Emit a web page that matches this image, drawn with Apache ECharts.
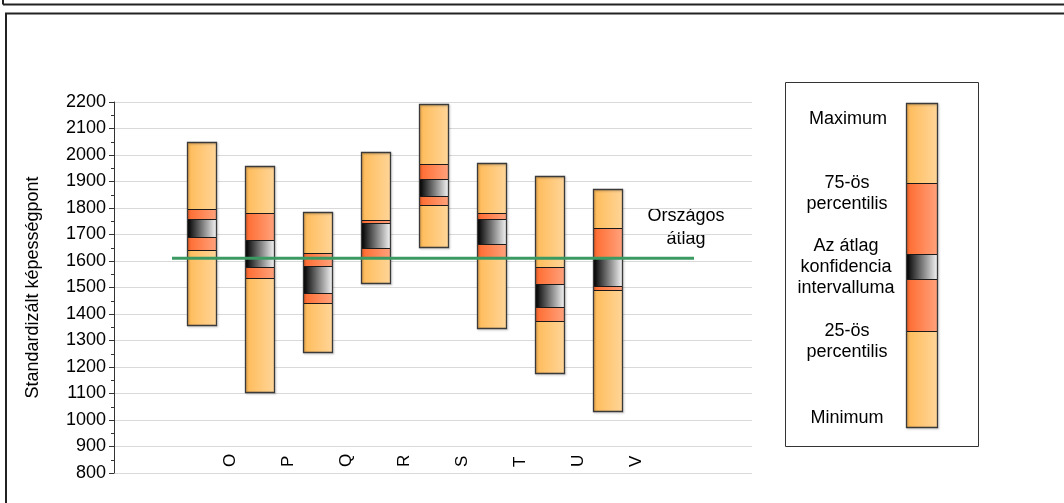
<!DOCTYPE html>
<html><head><meta charset="utf-8">
<script src="https://cdn.jsdelivr.net/npm/echarts@6/dist/echarts.min.js"></script>
<style>html,body{margin:0;padding:0;background:#fff}#c{width:1064px;height:503px}</style>
</head><body><div id="c"></div>
<script>
// ---- data ----
const categories = ['O','P','Q','R','S','T','U','V'];
const minimum = [1360,1105,1257,1518,1654,1346,1177,1035];
const p25     = [1640,1535,1440,1616,1811,1612,1373,1490];
const ciLow   = [1691,1576,1478,1648,1846,1663,1427,1506];
const ciHigh  = [1757,1679,1582,1743,1911,1757,1512,1616];
const p75     = [1798,1783,1630,1753,1965,1783,1576,1723];
const maximum = [2049,1957,1786,2010,2194,1968,1921,1871];
const nationalAverage = 1610;
const yMin = 800, yMax = 2200, yStep = 100;
const yTitle = 'Standardizált képességpont';
const avgLabel = 'Országos\nátlag';
// legend sample bar (abstract sample values, bottom to top)
const legendBar = [0, 96, 148, 173, 244, 324];
const legendLabels = ['Maximum', '75-ös\npercentilis', 'Az átlag\nkonfidencia\nintervalluma', '25-ös\npercentilis', 'Minimum'];

const FONT = '"Liberation Sans", Arial, sans-serif';
const grad = (a, b) => new echarts.graphic.LinearGradient(0, 0, 1, 0, [{offset: 0, color: a}, {offset: 1, color: b}]);
const LIGHT = () => grad('#FFBB58', '#FFD598');
const RED = () => grad('#FF6A2E', '#FFA27C');
const CI = () => grad('#000000', '#F4F4F4');

function makeRender(widthFrac) {
  return function (params, api) {
    const x = api.value(0);
    const vals = [1, 2, 3, 4, 5, 6].map(i => api.value(i));
    const w = Math.round(api.size([1, 0])[0] * widthFrac);
    const cx = api.coord([x, vals[0]])[0];
    const left = Math.round(cx - w / 2) + 0.5;
    const ys = vals.map(v => Math.round(api.coord([x, v])[1]) + 0.5);
    const fills = [LIGHT(), RED(), CI(), RED(), LIGHT()];
    const children = [];
    for (let k = 0; k < 5; k++) {
      children.push({type: 'rect', shape: {x: left, y: ys[k + 1], width: w, height: ys[k] - ys[k + 1]},
        style: {fill: fills[k]}});
    }
    for (let k = 1; k < 5; k++) {
      children.push({type: 'line', shape: {x1: left, y1: ys[k], x2: left + w, y2: ys[k]},
        style: {stroke: '#1a1a1a', lineWidth: 1}});
    }
    children.push({type: 'rect', shape: {x: left, y: ys[5], width: w, height: ys[0] - ys[5]},
      style: {fill: null, stroke: '#3a3a3a', lineWidth: 1.3, shadowColor: 'rgba(0,0,0,0.25)', shadowBlur: 2, shadowOffsetX: 1, shadowOffsetY: 1}});
    return {type: 'group', children};
  };
}

const boxData = categories.map((c, i) => [i + 1.5, minimum[i], p25[i], ciLow[i], ciHigh[i], p75[i], maximum[i]]);

const chart = echarts.init(document.getElementById('c'), null, {renderer: 'canvas'});
chart.setOption({
  animation: false,
  backgroundColor: '#fff',
  grid: [
    {left: 114, top: 102, width: 638, height: 371},
    {left: 906, top: 103, width: 31, height: 324}
  ],
  xAxis: [
    {type: 'value', gridIndex: 0, min: 0, max: 11, interval: 1,
      axisLine: {show: false}, axisTick: {show: false}, splitLine: {show: false},
      axisLabel: {inside: true, rotate: 90, margin: 6, fontFamily: FONT, fontSize: 17, color: '#000',
        formatter: v => (v >= 2 && v - 2 < categories.length) ? categories[v - 2] : ''}},
    {type: 'value', gridIndex: 1, min: 0, max: 1, show: false}
  ],
  yAxis: [
    {type: 'value', gridIndex: 0, min: yMin, max: yMax, interval: yStep,
      name: yTitle, nameLocation: 'middle', nameRotate: 90, nameGap: 72,
      nameTextStyle: {fontFamily: FONT, fontSize: 18, color: '#000'},
      axisLine: {show: true, lineStyle: {color: '#333', width: 1}},
      axisTick: {show: true, length: 5, lineStyle: {color: '#333'}},
      minorTick: {show: true, splitNumber: 2, length: 3, lineStyle: {color: '#333'}},
      splitLine: {show: true, lineStyle: {color: '#d9d9d9', width: 1}},
      axisLabel: {fontFamily: FONT, fontSize: 18, color: '#000', margin: 8, formatter: v => String(v)}},
    {type: 'value', gridIndex: 1, min: 0, max: 324, show: false}
  ],
  series: [
    {type: 'custom', xAxisIndex: 0, yAxisIndex: 0, renderItem: makeRender(0.5),
      encode: {x: 0, y: [1, 6]}, data: boxData, z: 2},
    {type: 'line', xAxisIndex: 0, yAxisIndex: 0, data: [[1, nationalAverage], [10, nationalAverage]],
      symbol: 'none', lineStyle: {color: '#3b9a62', width: 3}, z: 5, silent: true},
    {type: 'custom', xAxisIndex: 1, yAxisIndex: 1, renderItem: makeRender(1),
      encode: {x: 0, y: [1, 6]}, data: [[0.5].concat(legendBar)], z: 2}
  ],
  graphic: [
    {type: 'line', shape: {x1: 3, y1: 4.5, x2: 1064, y2: 4.5}, style: {stroke: '#222', lineWidth: 2}},
    {type: 'line', shape: {x1: 3, y1: 0, x2: 3, y2: 4.5}, style: {stroke: '#222', lineWidth: 2}},
    {type: 'rect', shape: {x: 6, y: 13.5, width: 1100, height: 600}, style: {fill: null, stroke: '#222', lineWidth: 2}},
    {type: 'rect', shape: {x: 785.5, y: 82.5, width: 193, height: 364}, style: {fill: null, stroke: '#333', lineWidth: 1}},
    {type: 'text', x: 686, y: 228, style: {text: avgLabel, font: '18px ' + FONT, fill: '#000', textAlign: 'center', textVerticalAlign: 'middle', lineHeight: 23}},
    {type: 'text', x: 848, y: 119, style: {text: legendLabels[0], font: '18px ' + FONT, fill: '#000', textAlign: 'center', textVerticalAlign: 'middle', lineHeight: 21}},
    {type: 'text', x: 847, y: 194, style: {text: legendLabels[1], font: '18px ' + FONT, fill: '#000', textAlign: 'center', textVerticalAlign: 'middle', lineHeight: 21}},
    {type: 'text', x: 846, y: 267, style: {text: legendLabels[2], font: '18px ' + FONT, fill: '#000', textAlign: 'center', textVerticalAlign: 'middle', lineHeight: 21}},
    {type: 'text', x: 847, y: 342, style: {text: legendLabels[3], font: '18px ' + FONT, fill: '#000', textAlign: 'center', textVerticalAlign: 'middle', lineHeight: 21}},
    {type: 'text', x: 847, y: 418, style: {text: legendLabels[4], font: '18px ' + FONT, fill: '#000', textAlign: 'center', textVerticalAlign: 'middle', lineHeight: 21}}
  ]
});
</script>
</body></html>
